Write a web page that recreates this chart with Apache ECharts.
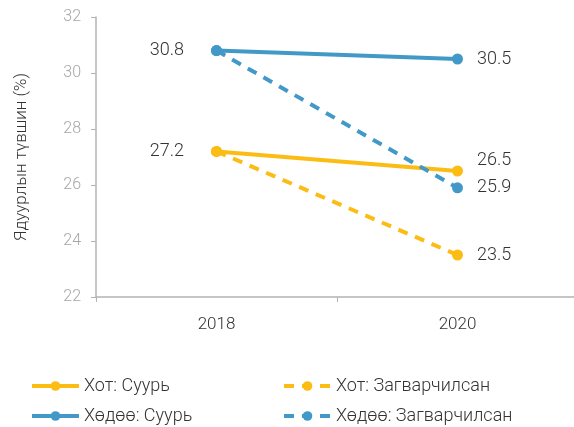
<!DOCTYPE html>
<html>
<head>
<meta charset="utf-8">
<script src="https://cdn.jsdelivr.net/npm/echarts@6/dist/echarts.min.js"></script>
<style>
  html, body { margin: 0; padding: 0; background: #fff; }
  #chart { width: 574px; height: 427px; }
</style>
</head>
<body>
<div id="chart"></div>
<script>
// data
var years = ["2018", "2020"];
var hotBase = [27.2, 26.5];
var hotModel = [27.2, 23.5];
var ruralBase = [30.8, 30.5];
var ruralModel = [30.8, 25.9];
var seriesNames = ["Хот: Суурь", "Хот: Загварчилсан", "Хөдөө: Суурь", "Хөдөө: Загварчилсан"];

var yellow = "#FBBC14";
var blue = "#4299C8";
var font = "Roboto";

var chart = echarts.init(document.getElementById("chart"));

// label on the left for the first year, on the right for the last one
function labelled(values, showFirst, lastOffset) {
  return values.map(function (v, i) {
    if (i === 0) {
      return {
        value: v,
        label: showFirst
          ? { show: true, position: "left", distance: 27 }
          : { show: false }
      };
    }
    return {
      value: v,
      label: { show: true, position: "right", distance: 14, offset: lastOffset || [0, 0] }
    };
  });
}

function lineSeries(name, data, color, dashed) {
  return {
    name: name,
    type: "line",
    data: data,
    symbol: "circle",
    symbolSize: 11,
    color: color,
    lineStyle: { width: 4, color: color, type: dashed ? [10, 8] : "solid" },
    itemStyle: { color: color },
    label: { color: "#333", fontSize: 18, fontWeight: 300, fontFamily: font },
    emphasis: { disabled: true },
    animation: false
  };
}

// one legend per entry so they sit in a 2x2 block
function legendAt(name, left, top) {
  return {
    left: left,
    top: top,
    itemWidth: 47,
    itemHeight: 12,
    itemGap: 6,
    lineStyle: { width: 4 },
    textStyle: { fontSize: 18, fontWeight: 300, color: "#333", fontFamily: font },
    data: [name]
  };
}

var option = {
  textStyle: { fontFamily: font },
  grid: { left: 96, width: 482, top: 17, bottom: 130, outerBoundsMode: "none" },
  legend: [
    legendAt(seriesNames[0], 25, 372),
    legendAt(seriesNames[1], 277, 372),
    legendAt(seriesNames[2], 25, 402),
    legendAt(seriesNames[3], 277, 402)
  ],
  xAxis: {
    type: "category",
    data: years,
    boundaryGap: true,
    axisLine: { lineStyle: { color: "#b3b3b3", width: 1.5 } },
    axisTick: { show: true, length: 5, lineStyle: { color: "#b3b3b3" } },
    axisLabel: { color: "#333", fontSize: 17, fontWeight: 300, margin: 19 }
  },
  yAxis: {
    type: "value",
    min: 22,
    max: 32,
    interval: 2,
    name: "Ядуурлын түвшин (%)",
    nameLocation: "middle",
    nameGap: 66,
    nameTextStyle: { color: "#333", fontSize: 17, fontWeight: 300, fontFamily: font },
    axisLine: { show: true, lineStyle: { color: "#b3b3b3", width: 1.5 } },
    axisTick: { show: true, length: 5, lineStyle: { color: "#b3b3b3" } },
    axisLabel: { color: "#a6a6a6", fontSize: 16, fontWeight: 300, margin: 15 },
    splitLine: { show: false }
  },
  series: [
    lineSeries(seriesNames[0], labelled(hotBase, true, [0, -11]), yellow, false),
    lineSeries(seriesNames[1], labelled(hotModel, false), yellow, true),
    lineSeries(seriesNames[2], labelled(ruralBase, true), blue, false),
    lineSeries(seriesNames[3], labelled(ruralModel, false), blue, true)
  ]
};

chart.setOption(option);
</script>
</body>
</html>
